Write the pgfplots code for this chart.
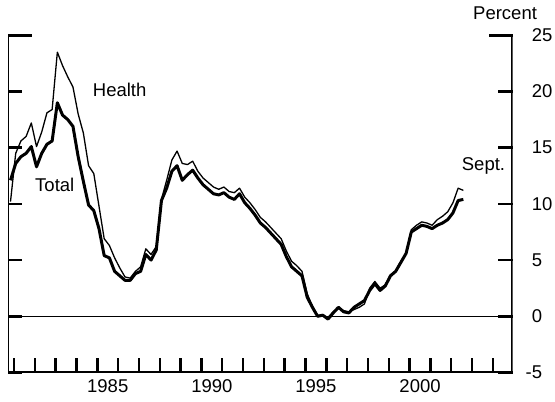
\documentclass[border=0pt]{standalone}
\usepackage{pgfplots}
\pgfplotsset{compat=1.18}
\usepackage{pgfplotstable}
\usepackage{fontspec}
\setmainfont{Liberation Sans}

\pgfplotstableread{
t total health
1980.83 12.1 10.2
1981.08 13.6 14.5
1981.33 14.2 15.6
1981.58 14.5 16.0
1981.83 15.1 17.2
1982.08 13.3 15.1
1982.33 14.5 16.4
1982.58 15.3 18.1
1982.83 15.6 18.4
1983.08 19.0 23.5
1983.33 17.9 22.3
1983.58 17.5 21.3
1983.83 16.9 20.4
1984.08 14.2 18.0
1984.33 12.0 16.3
1984.58 9.9 13.4
1984.83 9.4 12.7
1985.08 7.8 9.8
1985.33 5.4 6.9
1985.58 5.2 6.3
1985.83 4.0 5.2
1986.08 3.6 4.3
1986.33 3.2 3.5
1986.58 3.2 3.4
1986.83 3.8 4.0
1987.08 4.0 4.4
1987.33 5.5 6.0
1987.58 5.0 5.5
1987.83 5.9 6.2
1988.08 10.3 10.4
1988.33 11.4 12.1
1988.58 12.9 13.9
1988.83 13.4 14.7
1989.08 12.1 13.6
1989.33 12.6 13.5
1989.58 13.0 13.8
1989.83 12.3 12.9
1990.08 11.7 12.3
1990.33 11.3 11.9
1990.58 10.9 11.5
1990.83 10.8 11.3
1991.08 11.0 11.5
1991.33 10.6 11.1
1991.58 10.4 11.0
1991.83 10.9 11.4
1992.08 10.1 10.6
1992.33 9.6 10.1
1992.58 9.0 9.5
1992.83 8.3 8.8
1993.08 7.9 8.4
1993.33 7.4 7.9
1993.58 6.9 7.4
1993.83 6.4 6.9
1994.08 5.3 5.8
1994.33 4.4 4.9
1994.58 4.0 4.5
1994.83 3.6 4.0
1995.08 1.7 2.0
1995.33 0.8 0.9
1995.58 0.0 0.1
1995.83 0.1 0.1
1996.08 -0.25 -0.1
1996.33 0.3 0.4
1996.58 0.8 0.7
1996.83 0.4 0.5
1997.08 0.3 0.4
1997.33 0.8 0.6
1997.58 1.1 0.8
1997.83 1.4 1.1
1998.08 2.3 2.5
1998.33 2.9 3.1
1998.58 2.3 2.5
1998.83 2.7 2.8
1999.08 3.6 3.7
1999.33 4.0 4.0
1999.58 4.8 4.9
1999.83 5.6 5.6
2000.08 7.5 7.7
2000.33 7.8 8.1
2000.58 8.1 8.4
2000.83 8.0 8.3
2001.08 7.8 8.1
2001.33 8.1 8.6
2001.58 8.3 8.9
2001.83 8.6 9.3
2002.08 9.2 10.1
2002.33 10.3 11.4
2002.58 10.4 11.2
}\datatable

\begin{document}
\begin{tikzpicture}[font=\fontsize{18.5bp}{22bp}\selectfont]
\path[use as bounding box] (0,0) rectangle (555bp,402bp);
\begin{axis}[
  at={(8bp,29.5bp)}, anchor=south west,
  scale only axis, width=504.7bp, height=337.2bp,
  xmin=1980.71, xmax=2004.95, ymin=-5, ymax=25,
  axis line style={draw=none},
  tick align=inside,
  major tick length=14.5bp,
  every tick/.style={black, line width=2.5bp},
  xtick={1981,1982,...,2004}, xticklabels={}, xtick pos=bottom,
  extra x ticks={1985.5,1990.5,1995.5,2000.5},
  extra x tick labels={1985,1990,1995,2000},
  extra x tick style={major tick length=0pt},
  xticklabel style={anchor=base, yshift=-20.2bp, inner sep=0pt, font=\fontsize{18.5bp}{22bp}\selectfont},
  ytick={-5,0,5,10,15,20},
  yticklabels={\llap{-}5,0,5,10,15,20},
  extra y ticks={25}, extra y tick labels={25},
  extra y tick style={major tick length=24bp},
  ytick pos=both, yticklabel pos=right,
  yticklabel style={anchor=west, inner sep=0pt, xshift=19bp, font=\fontsize{18.5bp}{22bp}\selectfont},
]
\addplot[black, line width=1.3bp] coordinates {(1980.71,0) (2004.95,0)};
\addplot[black, line width=3bp, line join=round] table[x=t,y=total]{\datatable};
\addplot[black, line width=1.3bp, line join=round] table[x=t,y=health]{\datatable};
\draw[black, line width=2.5bp, line join=miter] (rel axis cs:0,1) -- (rel axis cs:0,0) -- (rel axis cs:1,0) -- (rel axis cs:1,1);
\end{axis}
\node[anchor=base west, inner sep=0pt] at (473bp,382.1bp) {Percent};
\node[anchor=base west, inner sep=0pt] at (92.7bp,305.5bp) {Health};
\node[anchor=base west, inner sep=0pt] at (35bp,210.5bp) {Total};
\node[anchor=base west, inner sep=0pt] at (461.7bp,231.5bp) {Sept.};
\end{tikzpicture}
\end{document}
